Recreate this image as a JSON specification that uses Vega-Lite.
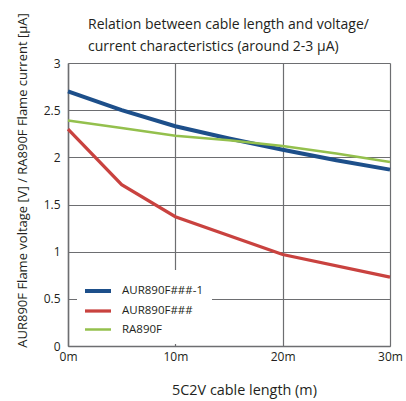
{
  "$schema": "https://vega.github.io/schema/vega-lite/v6.json",
  "width": 322,
  "height": 283,
  "autosize": {"type": "none"},
  "padding": {"left": 68, "top": 63, "right": 16, "bottom": 55},
  "background": "white",
  "config": {
    "font": "Open Sans",
    "view": {"stroke": null}
  },
  "title": {
    "text": ["Relation between cable length and voltage/", "current characteristics (around 2-3 μA)"],
    "anchor": "start",
    "frame": "group",
    "dx": 20,
    "dy": 57,
    "offset": 16,
    "fontSize": 14,
    "fontWeight": "normal",
    "lineHeight": 22,
    "color": "#231f20"
  },
  "data": {
    "values": [
      {"len": 0, "v": 2.7, "s": "AUR890F###-1"},
      {"len": 5, "v": 2.5, "s": "AUR890F###-1"},
      {"len": 10, "v": 2.33, "s": "AUR890F###-1"},
      {"len": 15, "v": 2.2, "s": "AUR890F###-1"},
      {"len": 20, "v": 2.08, "s": "AUR890F###-1"},
      {"len": 25, "v": 1.97, "s": "AUR890F###-1"},
      {"len": 30, "v": 1.87, "s": "AUR890F###-1"},
      {"len": 0, "v": 2.3, "s": "AUR890F###"},
      {"len": 5, "v": 1.71, "s": "AUR890F###"},
      {"len": 10, "v": 1.37, "s": "AUR890F###"},
      {"len": 20, "v": 0.97, "s": "AUR890F###"},
      {"len": 30, "v": 0.73, "s": "AUR890F###"},
      {"len": 0, "v": 2.39, "s": "RA890F"},
      {"len": 5, "v": 2.31, "s": "RA890F"},
      {"len": 10, "v": 2.23, "s": "RA890F"},
      {"len": 15, "v": 2.18, "s": "RA890F"},
      {"len": 20, "v": 2.12, "s": "RA890F"},
      {"len": 25, "v": 2.04, "s": "RA890F"},
      {"len": 30, "v": 1.95, "s": "RA890F"}
    ]
  },
  "mark": {"type": "line", "interpolate": "linear", "strokeCap": "butt"},
  "encoding": {
    "x": {
      "field": "len", "type": "quantitative",
      "scale": {"domain": [0, 30], "nice": false, "zero": false},
      "axis": {
        "values": [0, 10, 20, 30],
        "labelExpr": "datum.value + 'm'",
        "title": "5C2V cable length (m)",
        "ticks": false,
        "labelPadding": 5,
        "labelFontSize": 12,
        "labelColor": "#231f20",
        "labelFlush": false,
        "domainColor": "#6d6e71",
        "domainWidth": 1.5,
        "gridColor": "#6d6e71",
        "gridWidth": 1.2,
        "gridOpacity": 1,
        "titleFontSize": 14.4,
        "titleFontWeight": "normal",
        "titleColor": "#231f20",
        "titleX": 176,
        "titleY": 44,
        "titleBaseline": "middle",
        "titleAlign": "center"
      }
    },
    "y": {
      "field": "v", "type": "quantitative",
      "scale": {"domain": [0, 3], "nice": false},
      "axis": {
        "values": [0, 0.5, 1, 1.5, 2, 2.5, 3],
        "format": "~g",
        "title": "AUR890F Flame voltage [V] / RA890F Flame current [μA]",
        "ticks": false,
        "labelPadding": 8,
        "labelFontSize": 12,
        "labelColor": "#231f20",
        "labelFlush": false,
        "domainColor": "#6d6e71",
        "domainWidth": 1.5,
        "gridColor": "#6d6e71",
        "gridWidth": 1.2,
        "gridOpacity": 1,
        "titleFontSize": 13,
        "titleFontWeight": "normal",
        "titleColor": "#231f20",
        "titleX": -46,
        "titleY": 117,
        "titleAngle": -90,
        "titleBaseline": "middle",
        "titleAlign": "center"
      }
    },
    "color": {
      "field": "s", "type": "nominal",
      "scale": {"domain": ["AUR890F###-1", "AUR890F###", "RA890F"], "range": ["#1d4f8a", "#c9423f", "#94c04d"]},
      "legend": {
        "title": null,
        "orient": "none",
        "legendX": 9,
        "legendY": 207,
        "fillColor": "white",
        "padding": 9,
        "symbolType": "M-1.3,0H1.3",
        "symbolSize": 400,
        "symbolStrokeWidth": 3.5,
        "labelFontSize": 11.5,
        "labelColor": "#231f20",
        "labelOffset": 12,
        "rowPadding": 0,
        "labelLimit": 300
      }
    },
    "strokeWidth": {
      "field": "s", "type": "nominal",
      "scale": {"domain": ["AUR890F###-1", "AUR890F###", "RA890F"], "range": [4, 2.5, 2.5]},
      "legend": null
    }
  }
}
